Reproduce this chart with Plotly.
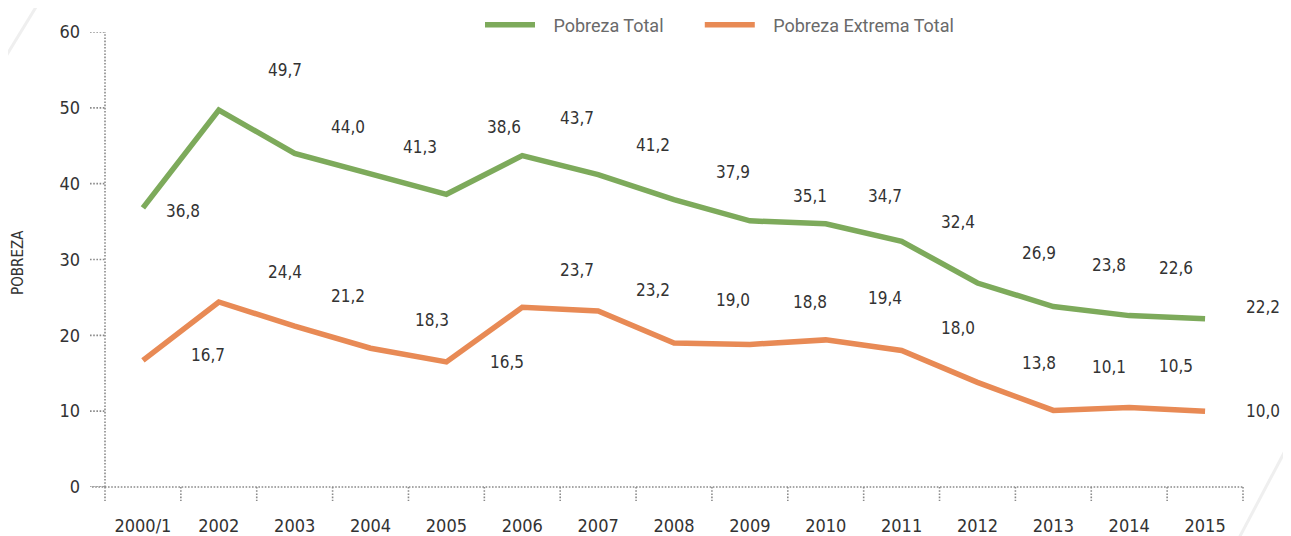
import plotly.graph_objects as go

# ---- data ----
categories = ["2000/1", "2002", "2003", "2004", "2005", "2006", "2007", "2008",
              "2009", "2010", "2011", "2012", "2013", "2014", "2015"]
pobreza_total = [36.8, 49.7, 44.0, 41.3, 38.6, 43.7, 41.2, 37.9, 35.1, 34.7,
                 32.4, 26.9, 23.8, 22.6, 22.2]
pobreza_extrema = [16.7, 24.4, 21.2, 18.3, 16.5, 23.7, 23.2, 19.0, 18.8, 19.4,
                   18.0, 13.8, 10.1, 10.5, 10.0]
y_ticks = [0, 10, 20, 30, 40, 50, 60]

# ---- style ----
GREEN = "#7DAA5B"
ORANGE = "#E88A55"
TEXT = "#333333"
AXIS = "#8a8a8a"
NARROW = "DejaVu Sans Condensed, Roboto, sans-serif"

# label pixel offsets (style) relative to each point
green_dx = [40, 66, 53, 49, 58, 55, 55, 59, 60, 59, 56, 62, 56, 47, 58]
green_dy = [3, -40, -26, -27, -67, -38, -30, -28, -25, -28, -19, -30, -42, -48, -12]
orange_dx = [65, 66, 53, 61, 61, 55, 55, 59, 60, 59, 56, 62, 56, 47, 58]
orange_dy = [-5, -30, -30, -28, 0, -37, -21, -43, -42, -42, -23, -19, -43, -41, 0]

# page geometry (the page body adds an 8px offset)
OFF = 8
PAGE_W, PAGE_H = 1291, 536
PL, PR, PT, PB = 105, 1243, 32, 487   # plot area in page pixels
W, H = PAGE_W - OFF, PAGE_H - OFF
ML, MT = PL - OFF, PT - OFF
MR, MB = W + OFF - PR, H + OFF - PB
PW, PH = PR - PL, PB - PT


def xp(px):
    return (px - PL) / PW


def yp(py):
    return (PB - py) / PH


fig = go.Figure()
fig.add_trace(go.Scatter(x=categories, y=pobreza_total, mode="lines",
                         name="\u00a0\u00a0\u00a0Pobreza Total" + "\u00a0" * 7,
                         line=dict(color=GREEN, width=5.5)))
fig.add_trace(go.Scatter(x=categories, y=pobreza_extrema, mode="lines",
                         name="\u00a0\u00a0\u00a0Pobreza Extrema Total",
                         line=dict(color=ORANGE, width=5.5)))

annotations = []
for vals, dxs, dys in [(pobreza_total, green_dx, green_dy), (pobreza_extrema, orange_dx, orange_dy)]:
    for i, (v, dx, dy) in enumerate(zip(vals, dxs, dys)):
        annotations.append(dict(x=i, y=v, xref="x", yref="y",
                                text=f"{v:.1f}".replace(".", ","), showarrow=False,
                                xshift=dx, yshift=-dy,
                                font=dict(family=NARROW, size=17, color=TEXT)))

# y-axis title
annotations.append(dict(x=xp(18), y=yp(263), xref="paper", yref="paper", text="POBREZA",
                        textangle=-90, showarrow=False, xanchor="center", yanchor="middle",
                        font=dict(family=NARROW, size=15, color=TEXT)))

dot = dict(color=AXIS, width=1.6, dash="1.6px,1.6px")
shapes = []
# dotted axis lines
shapes.append(dict(type="line", xref="paper", yref="paper", x0=0, x1=0, y0=0, y1=1, line=dot))
shapes.append(dict(type="line", xref="paper", yref="paper", x0=xp(92), x1=1, y0=0, y1=0, line=dot))
# dotted y ticks
for t in y_ticks:
    shapes.append(dict(type="line", xref="paper", yref="y", x0=xp(90), x1=0, y0=t, y1=t, line=dot))
# dotted x ticks at category boundaries
n = len(categories)
for i in range(n + 1):
    shapes.append(dict(type="line", xref="paper", yref="paper", x0=i / n, x1=i / n,
                       y0=0, y1=yp(501), line=dot))
# decorative faint diagonals
shapes.append(dict(type="line", xref="paper", yref="paper",
                   x0=xp(-5), y0=yp(74), x1=xp(44), y1=yp(-6),
                   line=dict(color="#efefef", width=3), layer="below"))
shapes.append(dict(type="line", xref="paper", yref="paper",
                   x0=xp(1238), y0=yp(540), x1=xp(1295), y1=yp(432),
                   line=dict(color="#efefef", width=3), layer="below"))

fig.update_layout(
    width=W, height=H,
    margin=dict(l=ML, r=MR, t=MT, b=MB, autoexpand=False),
    paper_bgcolor="white", plot_bgcolor="white",
    showlegend=True,
    legend=dict(orientation="h", xref="container", yref="container",
                x=(480 - OFF) / W, xanchor="left", y=1 - (25 - OFF) / H, yanchor="middle",
                font=dict(family="Roboto, sans-serif", size=18, color="#6a6a6a"),
                itemwidth=50, bgcolor="rgba(0,0,0,0)"),
    xaxis=dict(type="category", showgrid=False, zeroline=False, showline=False, ticks="",
               range=[-0.5, n - 0.5], ticklabelstandoff=26, automargin=False,
               tickfont=dict(family=NARROW, size=18, color=TEXT)),
    yaxis=dict(range=[0, 60], tickvals=y_ticks, showgrid=False, zeroline=False, showline=False,
               ticks="", ticklabelstandoff=24, automargin=False,
               tickfont=dict(family=NARROW, size=18, color=TEXT)),
    annotations=annotations,
    shapes=shapes,
)

fig.write_html("out.html")
